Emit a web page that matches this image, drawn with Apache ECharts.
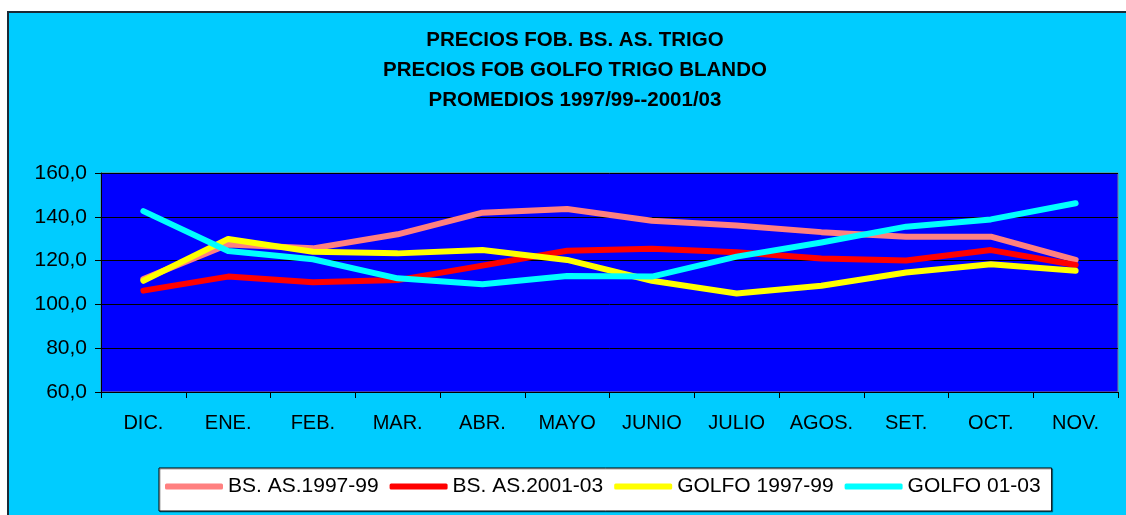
<!DOCTYPE html>
<html>
<head>
<meta charset="utf-8">
<script src="https://cdn.jsdelivr.net/npm/echarts@6/dist/echarts.min.js"></script>
<style>
html,body{margin:0;padding:0;background:#ffffff;}
#wrap{position:relative;width:1126px;height:515px;background:#ffffff;overflow:hidden;}
#panel{position:absolute;left:7px;top:11px;width:1119px;height:504px;background:#00CCFF;border-top:2px solid #1a2a36;border-left:2px solid #1a2a36;box-sizing:border-box;}
#chart{position:absolute;left:0;top:0;width:1126px;height:515px;}
</style>
</head>
<body>
<div id="wrap"><div id="panel"></div><div id="chart"></div></div>
<script>
const titleLines = ['PRECIOS FOB. BS. AS. TRIGO', 'PRECIOS FOB GOLFO TRIGO BLANDO', 'PROMEDIOS 1997/99--2001/03'];
const categories = ['DIC.', 'ENE.', 'FEB.', 'MAR.', 'ABR.', 'MAYO', 'JUNIO', 'JULIO', 'AGOS.', 'SET.', 'OCT.', 'NOV.'];
const seriesNames = ['BS. AS.1997-99', 'BS. AS.2001-03', 'GOLFO 1997-99', 'GOLFO 01-03'];
const bsas9799 = [111.6, 127.4, 125.6, 132.0, 141.9, 143.6, 138.2, 136.0, 133.0, 130.9, 130.9, 120.3];
const bsas0103 = [106.3, 112.7, 110.1, 111.1, 117.7, 124.5, 125.4, 123.8, 121.0, 120.0, 124.8, 118.0];
const golfo9799 = [110.8, 129.9, 124.0, 123.3, 124.8, 120.3, 110.8, 105.0, 108.5, 114.6, 118.3, 115.4];
const golfo0103 = [142.6, 124.4, 120.6, 111.9, 109.2, 113.0, 112.7, 121.8, 128.3, 135.5, 138.8, 146.2];
const yMin = 60, yMax = 160, yStep = 20;

const colors = ['#FF8080', '#FF0000', '#FFFF00', '#00FFFF'];
const dataSets = [bsas9799, bsas0103, golfo9799, golfo0103];
const FONT = "'Liberation Sans', Arial, Helvetica, sans-serif";

const chart = echarts.init(document.getElementById('chart'), null, {renderer: 'canvas'});
chart.setOption({
  backgroundColor: 'transparent',
  animation: false,
  graphic: titleLines.map((t, i) => ({
    type: 'text',
    x: 575,
    y: 40 + i * 30,
    style: {
      text: t,
      align: 'center',
      verticalAlign: 'middle',
      fill: '#000',
      font: "bold 20.5px 'Liberation Sans', Arial, sans-serif"
    }
  })),
  legend: {
    data: seriesNames,
    left: 159,
    top: 468,
    orient: 'horizontal',
    backgroundColor: '#ffffff',
    borderColor: '#000000',
    borderWidth: 1,
    padding: [8, 11, 14, 6],
    itemGap: 11,
    itemWidth: 58,
    itemHeight: 6,
    icon: 'roundRect',
    shadowColor: 'rgba(0,0,0,0.35)',
    shadowOffsetX: 1,
    shadowOffsetY: 1,
    textStyle: {fontFamily: FONT, fontSize: 21, color: '#000', padding: [0, 0, 0, 0]}
  },
  grid: {
    left: 101, top: 173, width: 1017, height: 219,
    show: true,
    backgroundColor: '#0000FF',
    borderColor: '#808080',
    borderWidth: 1
  },
  xAxis: {
    type: 'category',
    data: categories,
    boundaryGap: true,
    axisLine: {show: true, lineStyle: {color: '#000', width: 1}},
    axisTick: {show: true, length: 6, inside: false, lineStyle: {color: '#000'}, alignWithLabel: false},
    axisLabel: {fontFamily: FONT, fontSize: 20, color: '#000', margin: 21, interval: 0},
    splitLine: {show: false}
  },
  yAxis: {
    type: 'value',
    min: yMin, max: yMax, interval: yStep,
    axisLine: {show: true, lineStyle: {color: '#000', width: 1}},
    axisTick: {show: true, length: 6, lineStyle: {color: '#000'}},
    axisLabel: {fontFamily: FONT, fontSize: 21, color: '#000', margin: 14,
      formatter: v => v.toFixed(1).replace('.', ',')},
    splitLine: {show: true, lineStyle: {color: '#000', width: 1}}
  },
  series: seriesNames.map((n, i) => ({
    name: n,
    type: 'line',
    data: dataSets[i],
    symbol: 'none',
    showSymbol: false,
    smooth: false,
    color: colors[i],
    itemStyle: {color: colors[i]},
    lineStyle: {color: colors[i], width: 6, cap: 'round', join: 'round'},
    z: 2 + i
  }))
});
</script>
</body>
</html>
